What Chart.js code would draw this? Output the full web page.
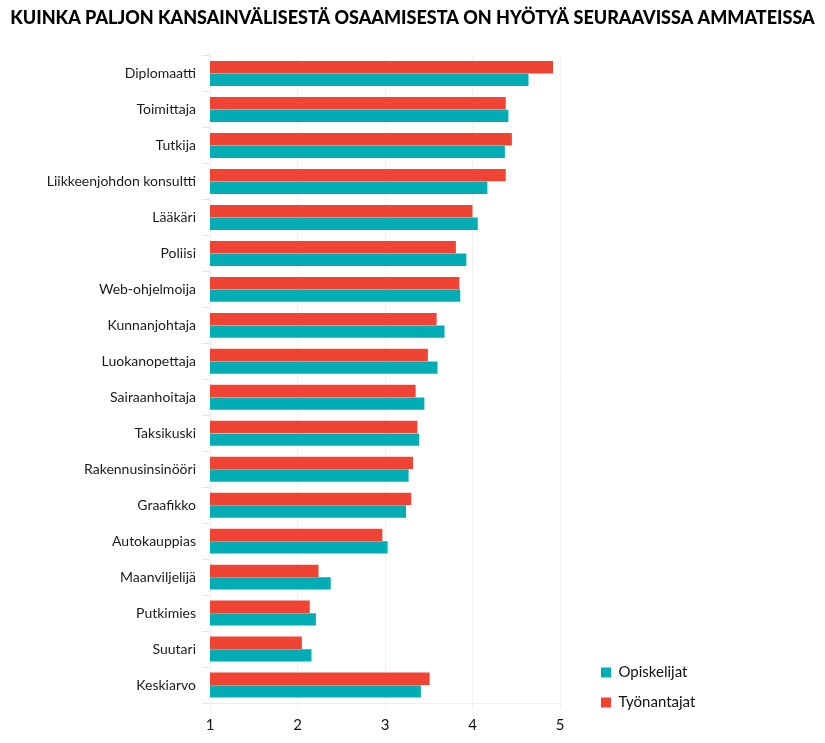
<!DOCTYPE html>
<html>
<head>
<meta charset="utf-8">
<script src="https://cdn.jsdelivr.net/npm/chart.js@4/dist/chart.umd.min.js"></script>
<style>
  html, body { margin: 0; padding: 0; background: #fff; }
  #wrap { width: 825px; height: 743px; position: relative; }
</style>
</head>
<body>
<div id="wrap"><canvas id="c"></canvas></div>
<script>
const titleText = 'KUINKA PALJON KANSAINVÄLISESTÄ OSAAMISESTA ON HYÖTYÄ SEURAAVISSA AMMATEISSA';
const categories = ['Diplomaatti', 'Toimittaja', 'Tutkija', 'Liikkeenjohdon konsultti', 'Lääkäri', 'Poliisi',
  'Web-ohjelmoija', 'Kunnanjohtaja', 'Luokanopettaja', 'Sairaanhoitaja', 'Taksikuski', 'Rakennusinsinööri',
  'Graafikko', 'Autokauppias', 'Maanviljelijä', 'Putkimies', 'Suutari', 'Keskiarvo'];
const tyonantajat = [4.92, 4.38, 4.45, 4.38, 4.00, 3.81, 3.85, 3.59, 3.49, 3.35, 3.37, 3.32, 3.30, 2.97, 2.24, 2.14, 2.05, 3.51];
const opiskelijat = [4.64, 4.41, 4.37, 4.17, 4.06, 3.93, 3.86, 3.68, 3.60, 3.45, 3.39, 3.27, 3.24, 3.03, 2.38, 2.21, 2.16, 3.41];
const xTicks = [1, 2, 3, 4, 5];

const FONT = 'Lato, "Noto Sans", sans-serif';
const LEGEND_W = 239;
const LEGEND_LIFT = 18;

const legendWidthPlugin = {
  id: 'legendWidth',
  afterInit(chart) {
    const lg = chart.legend;
    if (!lg) return;
    const origFit = lg.fit;
    lg.fit = function () { origFit.call(this); this.width = LEGEND_W; };
    const origDraw = lg.draw;
    lg.draw = function () {
      const b = this.bottom;
      this.bottom = b - LEGEND_LIFT;
      origDraw.call(this);
      this.bottom = b;
    };
  }
};

new Chart(document.getElementById('c'), {
  type: 'bar',
  data: {
    labels: categories,
    datasets: [
      { label: 'Työnantajat', data: tyonantajat, backgroundColor: '#EF4433', borderWidth: 0,
        categoryPercentage: 0.7, barPercentage: 0.98 },
      { label: 'Opiskelijat', data: opiskelijat, backgroundColor: '#00ADB5', borderWidth: 0,
        categoryPercentage: 0.7, barPercentage: 0.98 }
    ]
  },
  plugins: [legendWidthPlugin],
  options: {
    indexAxis: 'y',
    responsive: true,
    maintainAspectRatio: false,
    animation: false,
    devicePixelRatio: 1,
    layout: { padding: { left: 0, right: 0, top: 0, bottom: 0 } },
    scales: {
      x: {
        type: 'linear',
        min: 1, max: 5,
        afterBuildTicks(s) { s.ticks = xTicks.map(v => ({ value: v })); },
        afterFit(s) { s.height = 40; },
        grid: { color: '#f1f1f1', lineWidth: 1, tickLength: 7, drawTicks: true },
        border: { display: true, color: '#eeeeee' },
        ticks: { color: '#111', font: { family: FONT, size: 15 }, padding: 6 }
      },
      y: {
        type: 'category',
        afterFit(s) { s.width = 210; },
        grid: { display: true, drawOnChartArea: false, offset: true, tickLength: 8, color: '#e6e6e6' },
        border: { display: false },
        ticks: { color: '#1a1a1a', font: { family: FONT, size: 14 }, padding: 6 }
      },
      yR: {
        type: 'linear',
        axis: 'y',
        position: 'right',
        display: true,
        afterFit(s) { s.width = 26; },
        grid: { display: false, drawTicks: false },
        border: { display: false },
        ticks: { display: false }
      }
    },
    plugins: {
      title: {
        display: true,
        text: titleText,
        color: '#000',
        font: { family: FONT, size: 18, weight: '900' },
        padding: { top: 7, bottom: 27 }
      },
      legend: {
        display: true,
        position: 'right',
        align: 'end',
        reverse: true,
        labels: {
          boxWidth: 10, boxHeight: 10,
          padding: 15,
          color: '#111',
          font: { family: FONT, size: 15 }
        }
      },
      tooltip: { enabled: false }
    }
  }
});
</script>
</body>
</html>
